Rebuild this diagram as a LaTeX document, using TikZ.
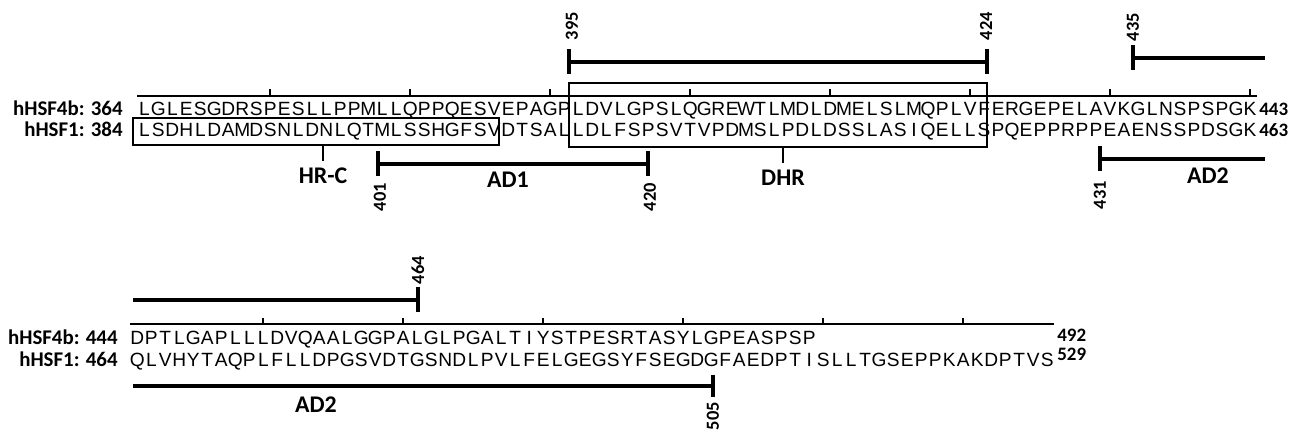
\documentclass[tikz,border=0pt]{standalone}
\usepackage{fontspec}
\setmainfont{Liberation Sans}
\newfontfamily\lblfont{Carlito}
\usetikzlibrary{fit}

% one residue per fixed column
\newlength\rescol
\setlength\rescol{0.28cm}
\newcommand\seqrow[1]{\seqloop#1\relax}
\def\seqloop#1{\ifx\relax#1\else\makebox[\rescol]{#1}\expandafter\seqloop\fi}

\begin{document}
\begin{tikzpicture}[
    x=0.02cm, y=-0.02cm,
    seq_text/.style={inner sep=0pt, anchor=base west, font=\fontsize{10.9}{12}\selectfont},
    row_label/.style={inner sep=0pt, anchor=base east, font=\lblfont\bfseries\fontsize{11.9}{13}\selectfont},
    end_label/.style={inner sep=0pt, anchor=base west, font=\lblfont\bfseries\fontsize{10.8}{12}\selectfont},
    pos_label/.style={inner sep=0pt, rotate=90, font=\lblfont\bfseries\fontsize{10.5}{12}\selectfont},
    dom_label/.style={inner sep=0pt, font=\lblfont\bfseries\fontsize{13.6}{15}\selectfont},
    region_box/.style={draw, line width=1.1pt, inner sep=0pt},
    dom_bar/.style={line width=2.8pt},
    ruler/.style={line width=0.8pt},
    pointer/.style={line width=0.8pt}
]
    \useasboundingbox (0,0) rectangle (1305,435);

    % Block 1: ruler
    \draw[ruler] (137,96) -- (1257,96);
    \foreach \k in {1,...,8}
        \draw[ruler] (130+140*\k,96) -- ++(0,-7);

    % Block 1: sequences
    \node[row_label] (lab_f4_a) at (123,116) {hHSF4b: 364};
    \node[row_label] (lab_f1_a) at (123,137) {hHSF1: 384};
    \node[seq_text] (seq_f4_a) at (137,116) {\seqrow{LGLESGDRSPESLLPPMLLQPPQESVEPAGPLDVLGPSLQGREWTLMDLDMELSLMQPLVFERGEPELAVKGLNSPSPGK}};
    \node[seq_text] (seq_f1_a) at (137,137) {\seqrow{LSDHLDAMDSNLDNLQTMLSSHGFSVDTSALLDLFSPSVTVPDMSLPDLDSSLASIQELLSPQEPPRPPEAENSSPDSGK}};
    \node[end_label] (end_f4_a) at (1259,116) {443};
    \node[end_label] (end_f1_a) at (1259,137) {463};

    % Boxed regions
    \node[region_box, fit={(133,118) (499,145)}] (hrc_box) {};
    \node[region_box, fit={(569,83) (987,147)}] (dhr_box) {};
    \node[dom_label] (hrc) at (323,176) {HR-C};
    \node[dom_label] (dhr) at (783,178) {DHR};
    \draw[pointer] (hrc_box.south -| hrc) -- ++(0,15);
    \draw[pointer] (dhr_box.south -| dhr) -- ++(0,15);

    % Bar 395-424
    \coordinate (b395) at (569,62);
    \coordinate (b424) at (987,62);
    \draw[dom_bar] (b395) -- (b424);
    \draw[dom_bar] (b395) ++(0,-12.5) -- ++(0,25);
    \draw[dom_bar] (b424) ++(0,-12.5) -- ++(0,25);
    \node[pos_label] (n395) at (572,26) {395};
    \node[pos_label] (n424) at (986,26) {424};

    % Bar from 435
    \coordinate (b435) at (1133,58);
    \coordinate (b435e) at (1265,58);
    \draw[dom_bar] (b435) -- (b435e);
    \draw[dom_bar] (b435) ++(0,-12.5) -- ++(0,25);
    \node[pos_label] (n435) at (1133,27) {435};

    % AD1
    \coordinate (b401) at (378,164);
    \coordinate (b420) at (648,164);
    \draw[dom_bar] (b401) -- (b420);
    \draw[dom_bar] (b401) ++(0,-12.5) -- ++(0,25);
    \draw[dom_bar] (b420) ++(0,-12.5) -- ++(0,25);
    \node[dom_label] (ad1) at (508,180) {AD1};
    \node[pos_label] (n401) at (380,197) {401};
    \node[pos_label] (n420) at (650,197) {420};

    % AD2 (block 1)
    \coordinate (b431) at (1100,159);
    \coordinate (b431e) at (1265,159);
    \draw[dom_bar] (b431) -- (b431e);
    \draw[dom_bar] (b431) ++(0,-12.5) -- ++(0,25);
    \node[dom_label] (ad2_a) at (1208,176) {AD2};
    \node[pos_label] (n431) at (1100,195) {431};

    % Block 2: ruler
    \draw[ruler] (130,324) -- (1054,324);
    \foreach \k in {1,...,6}
        \draw[ruler] (123+140*\k,324) -- ++(0,-6);

    % Block 2: sequences
    \node[row_label] (lab_f4_b) at (118,345) {hHSF4b: 444};
    \node[row_label] (lab_f1_b) at (118,367) {hHSF1: 464};
    \node[seq_text] (seq_f4_b) at (130,345) {\seqrow{DPTLGAPLLLDVQAALGGPALGLPGALTIYSTPESRTASYLGPEASPSP}};
    \node[seq_text] (seq_f1_b) at (130,367) {\seqrow{QLVHYTAQPLFLLDPGSVDTGSNDLPVLFELGEGSYFSEGDGFAEDPTISLLTGSEPPKAKDPTVS}};
    \node[end_label] (end_f4_b) at (1057,342) {492};
    \node[end_label] (end_f1_b) at (1057,361) {529};

    % Bar up to 464
    \coordinate (b464s) at (133,300);
    \coordinate (b464) at (418,300);
    \draw[dom_bar] (b464s) -- (b464);
    \draw[dom_bar] (b464) ++(0,-12.5) -- ++(0,25);
    \node[pos_label] (n464) at (418,270) {464};

    % AD2 (block 2)
    \coordinate (b505s) at (133,386);
    \coordinate (b505) at (713,386);
    \draw[dom_bar] (b505s) -- (b505);
    \draw[dom_bar] (b505) ++(0,-11) -- ++(0,22);
    \node[dom_label] (ad2_b) at (316,405) {AD2};
    \node[pos_label] (n505) at (713,416) {505};
\end{tikzpicture}
\end{document}
